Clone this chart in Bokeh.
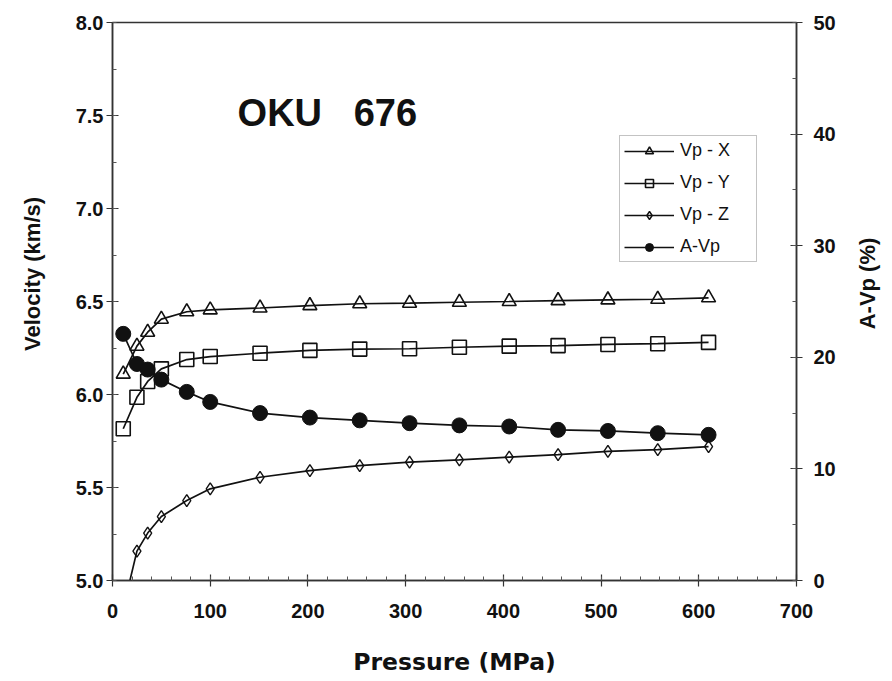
import math
from bokeh.plotting import figure
from bokeh.models import (Range1d, LinearAxis, FixedTicker, PrintfTickFormatter,
                          Label, Legend, LegendItem)
from bokeh.embed import file_html
from bokeh.resources import INLINE

# Pressure steps (MPa) and measured P-wave velocities (km/s)
pressure = [11, 25, 36, 50, 76, 100, 151, 202, 253, 304, 355, 406, 456, 507, 558, 610]
vp_x = [6.11, 6.26, 6.335, 6.405, 6.445, 6.455, 6.465, 6.478, 6.488, 6.491, 6.496,
        6.50, 6.505, 6.509, 6.512, 6.52]
vp_y = [5.816, 5.985, 6.07, 6.138, 6.188, 6.204, 6.222, 6.237, 6.244, 6.246, 6.254,
        6.26, 6.263, 6.269, 6.273, 6.28]
vp_z = [4.85, 5.158, 5.255, 5.344, 5.43, 5.493, 5.555, 5.591, 5.618, 5.636, 5.649,
        5.663, 5.677, 5.694, 5.704, 5.72]
# Anisotropy of Vp (%) on the secondary axis
a_vp = [22.1, 19.4, 18.9, 18.0, 16.9, 16.0, 15.0, 14.6, 14.35, 14.1, 13.9, 13.8,
        13.5, 13.4, 13.2, 13.05]

x_ticks = [0, 100, 200, 300, 400, 500, 600, 700]
x_minor = list(range(0, 701, 20))
v_ticks = [5.0, 5.5, 6.0, 6.5, 7.0, 7.5, 8.0]
v_minor = [5.0 + 0.25 * i for i in range(13)]
a_ticks = [0, 10, 20, 30, 40, 50]
a_minor = list(range(0, 51, 5))

FONT = "Liberation Sans"
WIDE = "DejaVu Sans"
INK = "#111111"
AXIS = "#333333"
NBSP = "\u00a0"

p = figure(width=892, height=681, output_backend="svg", toolbar_location=None,
           x_range=Range1d(0, 700), y_range=Range1d(5.0, 8.0),
           min_border_left=112, min_border_right=96, min_border_top=22,
           min_border_bottom=101)
p.extra_y_ranges = {"avp": Range1d(0, 50)}
p.xgrid.visible = False
p.ygrid.visible = False
p.outline_line_color = AXIS
p.outline_line_width = 1.5
p.background_fill_color = "white"
p.border_fill_color = "white"


def style_axis(ax, ticks, minor, standoff):
    ax.ticker = FixedTicker(ticks=ticks, minor_ticks=minor)
    ax.axis_line_color = AXIS
    ax.axis_line_width = 1.5
    ax.major_tick_line_color = AXIS
    ax.minor_tick_line_color = "#555555"
    ax.major_tick_line_width = 1.2
    ax.major_tick_in = 6
    ax.major_tick_out = 6
    ax.minor_tick_in = 4
    ax.minor_tick_out = 0
    ax.major_label_text_font = FONT
    ax.major_label_text_font_style = "bold"
    ax.major_label_text_font_size = "20px"
    ax.major_label_text_color = INK
    ax.major_label_standoff = standoff
    ax.axis_label_text_font = FONT
    ax.axis_label_text_font_style = "bold"
    ax.axis_label_text_font_size = "22px"
    ax.axis_label_text_color = INK


xa = p.xaxis[0]
style_axis(xa, x_ticks, x_minor, 17)
xa.axis_label = "Pressure (MPa)"
xa.axis_label_text_font = WIDE
xa.axis_label_text_font_size = "23.5px"
xa.axis_label_standoff = 27

ya = p.yaxis[0]
style_axis(ya, v_ticks, v_minor, 3)
ya.formatter = PrintfTickFormatter(format="%.1f")
# leading spaces lift the title a little above the axis midpoint
ya.axis_label = NBSP * 9 + "Velocity (km/s)"
ya.axis_label_standoff = 28

ra = LinearAxis(y_range_name="avp")
style_axis(ra, a_ticks, a_minor, 11)
p.add_layout(ra, "right")

# Title of the anisotropy axis, read bottom to top like the velocity title
p.add_layout(Label(x=29, y=297, x_units="screen", y_units="screen",
                   text="A-Vp (%)", angle=math.pi / 2, text_font=FONT,
                   text_font_style="bold", text_font_size="22px",
                   text_color=INK, text_align="center", text_baseline="middle"),
             "right")

LW = 1.7
lx = p.line(pressure, vp_x, line_color=INK, line_width=LW)
sx = p.scatter(pressure, vp_x, marker="triangle", size=14, fill_alpha=0,
               line_color=INK, line_width=1.6)
ly = p.line(pressure, vp_y, line_color=INK, line_width=LW)
sy = p.scatter(pressure, vp_y, marker="square", size=14, fill_alpha=0,
               line_color=INK, line_width=1.6)
lz = p.line(pressure, vp_z, line_color=INK, line_width=LW)
sz = p.scatter(pressure, vp_z, marker="diamond", size=12, fill_alpha=0,
               line_color=INK, line_width=1.4)
la = p.line(pressure, a_vp, line_color=INK, line_width=LW, y_range_name="avp")
sa = p.scatter(pressure, a_vp, marker="circle", size=15, fill_color=INK,
               line_color=INK, y_range_name="avp")

legend = Legend(items=[
    LegendItem(label="Vp - X", renderers=[lx, sx]),
    LegendItem(label="Vp - Y", renderers=[ly, sy]),
    LegendItem(label="Vp - Z", renderers=[lz, sz]),
    LegendItem(label="A-Vp", renderers=[la, sa]),
], location=(507, 318))
legend.border_line_color = "#888888"
legend.border_line_width = 1.5
legend.background_fill_alpha = 1
legend.label_text_font = FONT
legend.label_text_font_size = "18px"
legend.label_text_color = INK
legend.glyph_width = 50
legend.glyph_height = 20
legend.label_height = 20
legend.label_width = 72
legend.spacing = 11
legend.padding = 4
legend.margin = 0
legend.label_standoff = 6
p.add_layout(legend, "center")

title = Label(x=128, y=7.515, text="OKU" + NBSP * 3 + "676", text_font=FONT,
              text_font_style="bold", text_font_size="38px", text_color=INK,
              text_baseline="alphabetic")
p.add_layout(title)

open("out.html", "w").write(file_html(p, INLINE))
